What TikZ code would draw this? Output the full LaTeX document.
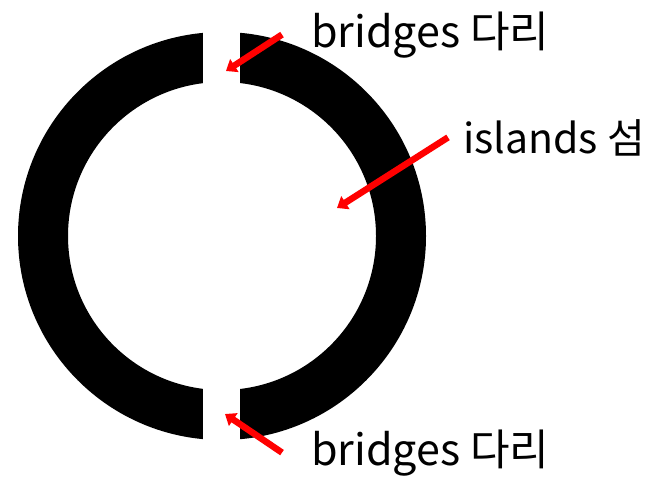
\documentclass[tikz,border=0pt]{standalone}
\usepackage{fontspec}
\setmainfont{Noto Sans CJK KR}
\usetikzlibrary{arrows.meta,positioning}

\begin{document}
\begin{tikzpicture}[
  x=1pt, y=-1pt,
  redarrow/.style={draw=red, line width=6.5pt, -{Triangle[length=10pt,width=15pt]}},
  lbl/.style={font=\fontsize{43}{50}\selectfont, inner sep=0pt, anchor=base west}
]
\useasboundingbox (0,0) rectangle (652,482);
% ring, cut at top and bottom
\coordinate (centre) at (222,236);
\fill[black, even odd rule] (centre) circle[radius=204pt] (centre) circle[radius=154pt];
\fill[white] (203,0) rectangle (240,120);
\fill[white] (203,360) rectangle (240,482);
% labels
\node[lbl] (bridgetop) at (311,47) {bridges 다리};
\node[lbl, font=\fontsize{41}{48}\selectfont] (islandlbl) at (463,153) {islands 섬};
\node[lbl] (bridgebot) at (311,465) {bridges 다리};
% arrow tips
\coordinate (gaptop) at (226,71);
\coordinate (ringpt) at (337,208);
\coordinate (gapbot) at (225,414);
\draw[redarrow] ([xshift=-29pt]bridgetop.west) -- (gaptop);
\draw[redarrow] ([xshift=-15pt]islandlbl.west) -- (ringpt);
\draw[redarrow] ([xshift=-29pt]bridgebot.west) -- (gapbot);
\end{tikzpicture}
\end{document}
